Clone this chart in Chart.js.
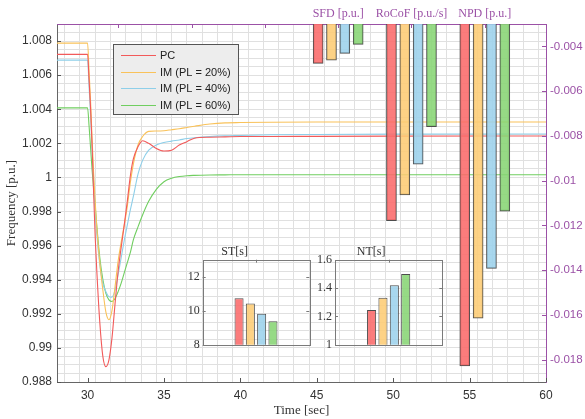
<!DOCTYPE html>
<html>
<head>
<meta charset="utf-8">
<script src="https://cdn.jsdelivr.net/npm/chart.js@4.4.1/dist/chart.umd.min.js"></script>
<style>
  html, body { margin: 0; padding: 0; background: #fff; }
  #wrap { position: relative; width: 585px; height: 419px; }
  #wrap canvas { position: absolute; }
</style>
</head>
<body>
<div id="wrap">
  <canvas id="main" width="585" height="419" style="left:0;top:0"></canvas>
  <canvas id="stChart" width="155" height="115" style="left:160px;top:240px"></canvas>
  <canvas id="ntChart" width="150" height="115" style="left:300px;top:240px"></canvas>
</div>
<script>
// Tiempo de simulación [s] y frecuencia [p.u.] de cada caso
const time = [28, 30, 30.1, 30.2, 30.3, 30.4, 30.5, 30.6, 30.8, 31.0, 31.2, 31.4, 31.6, 31.8, 32.0, 32.2, 32.4, 32.6, 32.8, 33.0, 33.3, 33.6, 34.0, 34.5, 35.0, 35.5, 36.0, 36.5, 37.0, 38.0, 39.0, 40.0, 42.0, 45.0, 50.0, 60.0];
const freqPC   = [1.00722, 1.00722, 1.0057, 1.0040, 1.0018, 0.9990, 0.9965, 0.9946, 0.9915, 0.9895, 0.9889, 0.9893, 0.9906, 0.9926, 0.9945, 0.9959, 0.9972, 0.9986, 1.0001, 1.0011, 1.0018, 1.00215, 1.0020, 1.0017, 1.00155, 1.0016, 1.0019, 1.0021, 1.0023, 1.00236, 1.00238, 1.0024, 1.0024, 1.00241, 1.00242, 1.00243];
const freqIM20 = [1.00788, 1.00788, 1.0062, 1.0044, 1.0022, 1.0002, 0.9986, 0.9971, 0.9950, 0.9934, 0.9921, 0.99165, 0.9922, 0.9936, 0.9951, 0.9962, 0.9972, 0.9983, 0.9997, 1.0008, 1.0019, 1.0024, 1.0027, 1.00272, 1.00274, 1.0028, 1.00286, 1.00293, 1.0030, 1.00313, 1.0032, 1.00322, 1.00324, 1.00325, 1.00325, 1.00325];
const freqIM40 = [1.00688, 1.00688, 1.0053, 1.0036, 1.0016, 0.9997, 0.9981, 0.9967, 0.9949, 0.9938, 0.9933, 0.9930, 0.99298, 0.9934, 0.9943, 0.9953, 0.9963, 0.9972, 0.9981, 0.9989, 1.0002, 1.0010, 1.0016, 1.0019, 1.00205, 1.00213, 1.0022, 1.00228, 1.00233, 1.0024, 1.00244, 1.00246, 1.0025, 1.00252, 1.00254, 1.00255];
const freqIM60 = [1.00408, 1.00408, 1.0030, 1.0017, 1.0004, 0.9993, 0.9983, 0.9972, 0.9953, 0.9940, 0.9932, 0.99282, 0.99272, 0.9929, 0.9933, 0.9938, 0.9944, 0.9950, 0.9956, 0.99635, 0.9971, 0.9978, 0.9986, 0.9993, 0.99975, 0.99995, 1.00005, 1.0001, 1.00012, 1.00014, 1.00015, 1.00016, 1.00016, 1.00016, 1.00016, 1.00016];
const seriesLabels = ['PC', 'IM (PL = 20%)', 'IM (PL = 40%)', 'IM (PL = 60%)'];

// Índices (barras del eje derecho)
const barGroups = ['SFD [p.u.]', 'RoCoF [p.u./s]', 'NPD [p.u.]'];
const barGroupPos = [4, 5, 6];
const barPC   = [-0.00476, -0.01179, -0.01828];
const barIM20 = [-0.00462, -0.01064, -0.01615];
const barIM40 = [-0.00431, -0.00927, -0.01392];
const barIM60 = [-0.00391, -0.00759, -0.01136];

// Recuadros ST y NT
const stValues = [10.74, 10.43, 9.83, 9.38];
const ntValues = [1.245, 1.332, 1.42, 1.50];

// Marcas de ejes
const xTicks = [30, 35, 40, 45, 50, 55, 60];
const yTicks = [0.988, 0.99, 0.992, 0.994, 0.996, 0.998, 1, 1.002, 1.004, 1.006, 1.008];
const yRightTicks = [-0.018, -0.016, -0.014, -0.012, -0.01, -0.008, -0.006, -0.004];
const barAxisTicks = [1, 2, 3, 4, 5, 6];
const stTicks = [8, 10, 12];
const ntTicks = [1, 1.2, 1.4, 1.6];

const purple = '#9b51a6';
const sans = "'Liberation Sans', Arial, sans-serif";
const serif = "'Liberation Serif', 'Times New Roman', serif";
const lineColors = ['#f25a5a', '#f9c25a', '#8ecfe9', '#70ce60'];
const barColors = ['rgba(250,106,106,0.88)', 'rgba(253,204,116,0.88)', 'rgba(156,210,236,0.88)', 'rgba(136,213,116,0.88)'];
const barOffsets = [-0.273, -0.091, 0.091, 0.273];

const fmt = v => String(parseFloat(v.toFixed(3)));

// Plugin: marcas hacia dentro y marco
const inTicks = {
    id: 'inTicks',
    afterDraw(chart, args, opts) {
        const ctx = chart.ctx;
        const a = chart.chartArea;
        ctx.save();
        ctx.lineWidth = 1;
        (opts.marks || []).forEach(m => {
            const s = chart.scales[m.scale];
            ctx.strokeStyle = m.color;
            ctx.beginPath();
            m.values.forEach(v => {
                const p = Math.round(s.getPixelForValue(v)) + 0.5;
                if (m.side === 'bottom') { ctx.moveTo(p, a.bottom); ctx.lineTo(p, a.bottom - m.len); }
                if (m.side === 'top') { ctx.moveTo(p, a.top); ctx.lineTo(p, a.top + m.len); }
                if (m.side === 'left') { ctx.moveTo(a.left, p); ctx.lineTo(a.left + m.len, p); }
                if (m.side === 'right') { ctx.moveTo(a.right, p); ctx.lineTo(a.right - m.len, p); }
            });
            ctx.stroke();
        });
        if (opts.box) {
            ctx.strokeStyle = opts.box;
            ctx.strokeRect(Math.round(a.left) + 0.5, Math.round(a.top) + 0.5, Math.round(a.right - a.left), Math.round(a.bottom - a.top));
        }
        ctx.restore();
    }
};

// Plugin: leyenda dentro del área
const legendBox = {
    id: 'legendBox',
    afterDatasetsDraw(chart, args, opts) {
        const ctx = chart.ctx;
        const [x, y, w, h] = opts.rect;
        ctx.save();
        ctx.fillStyle = '#ededed';
        ctx.fillRect(x, y, w, h);
        ctx.strokeStyle = '#555';
        ctx.lineWidth = 1;
        ctx.strokeRect(x + 0.5, y + 0.5, w, h);
        ctx.font = '11px ' + sans;
        ctx.textBaseline = 'middle';
        seriesLabels.forEach((label, k) => {
            const ry = Math.round(y + 11 + k * 16.6) + 0.5;
            ctx.strokeStyle = lineColors[k];
            ctx.lineWidth = 1.2;
            ctx.beginPath();
            ctx.moveTo(x + 8, ry);
            ctx.lineTo(x + 43, ry);
            ctx.stroke();
            ctx.fillStyle = '#222';
            ctx.fillText(label, x + 47, ry);
        });
        ctx.restore();
    }
};

const lineSets = [freqPC, freqIM20, freqIM40, freqIM60].map((vals, k) => ({
    type: 'line',
    label: seriesLabels[k],
    data: time.map((t, i) => ({ x: t, y: vals[i] })),
    xAxisID: 'x',
    yAxisID: 'y',
    borderColor: lineColors[k],
    borderWidth: 1.1,
    pointRadius: 0,
    cubicInterpolationMode: 'monotone',
    order: 2
}));

const barSets = [barPC, barIM20, barIM40, barIM60].map((vals, k) => ({
    type: 'bar',
    label: seriesLabels[k],
    data: barGroupPos.map((g, i) => ({ x: g + barOffsets[k], y: vals[i] })),
    xAxisID: 'xb',
    yAxisID: 'yb',
    backgroundColor: barColors[k],
    borderColor: '#4d4d4d',
    borderWidth: 1,
    barThickness: 10,
    grouped: false,
    clip: 0,
    order: 1
}));

const gridColor = '#e0e0e0';

new Chart(document.getElementById('main'), {
    type: 'bar',
    data: { datasets: [...lineSets, ...barSets] },
    options: {
        responsive: false,
        animation: false,
        layout: { padding: 0 },
        plugins: {
            legend: { display: false },
            tooltip: { enabled: false },
            legendBox: { rect: [113, 44, 125, 70] },
            inTicks: {
                marks: [
                    { scale: 'x', side: 'bottom', values: xTicks, color: '#555', len: 4 },
                    { scale: 'y', side: 'left', values: yTicks, color: '#555', len: 4 },
                    { scale: 'yb', side: 'right', values: yRightTicks, color: purple, len: 4 },
                    { scale: 'xb', side: 'top', values: barAxisTicks, color: purple, len: 4 }
                ]
            }
        },
        scales: {
            x: {
                type: 'linear', position: 'bottom', min: 28, max: 60, offset: false,
                ticks: { stepSize: 1, autoSkip: false, maxRotation: 0, padding: 6, color: '#333',
                    font: { family: sans, size: 12 },
                    callback: v => xTicks.includes(v) ? String(v) : '' },
                grid: { color: gridColor, drawTicks: false },
                border: { color: '#666' },
                title: { display: true, text: 'Time [sec]', color: '#333',
                    font: { family: serif, size: 13 }, padding: { top: 0, bottom: 1 } },
                afterFit: s => { s.height = 37; }
            },
            y: {
                type: 'linear', position: 'left', min: 0.988, max: 1.009,
                ticks: { stepSize: 0.0005, autoSkip: false, padding: 5, color: '#333',
                    font: { family: sans, size: 12 },
                    callback: v => {
                        const t = yTicks.find(t => Math.abs(t - v) < 1e-7);
                        return t === undefined ? '' : fmt(t);
                    } },
                grid: { color: gridColor, drawTicks: false },
                border: { color: '#666' },
                title: { display: true, text: 'Frequency [p.u.]', color: '#333',
                    font: { family: serif, size: 13 }, padding: { top: 4, bottom: 0 } },
                afterFit: s => { s.width = 57; }
            },
            xb: {
                type: 'linear', position: 'top', min: 0.165, max: 6.835, offset: false, z: 1,
                afterBuildTicks: s => { s.ticks = barAxisTicks.map(v => ({ value: v })); },
                ticks: { autoSkip: false, maxRotation: 0, padding: 3, color: purple,
                    font: { family: serif, size: 12 },
                    callback: v => {
                        const i = barGroupPos.indexOf(v);
                        return i >= 0 ? barGroups[i] : '';
                    } },
                grid: { display: false, drawTicks: false },
                border: { color: purple },
                afterFit: s => { s.height = 24; }
            },
            yb: {
                type: 'linear', position: 'right', min: -0.019, max: -0.003, z: 1,
                afterBuildTicks: s => { s.ticks = yRightTicks.map(v => ({ value: v })); },
                ticks: { padding: 4, color: purple, font: { family: sans, size: 11.5 },
                    callback: v => fmt(v) },
                grid: { display: false, drawTicks: false },
                border: { color: purple },
                afterFit: s => { s.width = 39; }
            }
        }
    },
    plugins: [legendBox, inTicks]
});

// Función para los recuadros ST y NT
function insetChart(id, values, yMin, yMax, ticks, title, yWidth, padRight, padBottom) {
    new Chart(document.getElementById(id), {
        type: 'bar',
        data: {
            labels: [''],
            datasets: values.map((v, k) => ({
                label: seriesLabels[k],
                data: [v],
                backgroundColor: barColors[k],
                borderColor: '#4d4d4d',
                borderWidth: 1,
                categoryPercentage: 0.424,
                barPercentage: 0.8,
                clip: 0
            }))
        },
        options: {
            responsive: false,
            animation: false,
            layout: { padding: { left: 0, top: 0, right: padRight, bottom: padBottom } },
            plugins: {
                legend: { display: false },
                tooltip: { enabled: false },
                title: { display: true, text: title, color: '#333',
                    font: { family: serif, size: 12, weight: 'normal' },
                    padding: { top: 4.5, bottom: 0.8 } },
                inTicks: {
                    box: '#7a7a7a',
                    marks: [
                        { scale: 'y', side: 'left', values: ticks, color: '#7a7a7a', len: 3 },
                        { scale: 'y', side: 'right', values: ticks, color: '#7a7a7a', len: 3 },
                        { scale: 'x', side: 'top', values: [0], color: '#7a7a7a', len: 3 }
                    ]
                }
            },
            scales: {
                x: { display: false },
                y: {
                    min: yMin, max: yMax,
                    afterBuildTicks: s => { s.ticks = ticks.map(v => ({ value: v })); },
                    ticks: { padding: 3, color: '#333', font: { family: serif, size: 12 },
                        callback: v => fmt(v) },
                    grid: { display: false, drawTicks: false },
                    border: { display: false },
                    afterFit: s => { s.width = yWidth; }
                }
            }
        },
        plugins: [inTicks]
    });
}

insetChart('stChart', stValues, 8, 13, stTicks, 'ST[s]', 42.7, 5.7, 8.3);
insetChart('ntChart', ntValues, 1, 1.6, ntTicks, 'NT[s]', 35, 7.7, 8.3);
</script>
</body>
</html>
